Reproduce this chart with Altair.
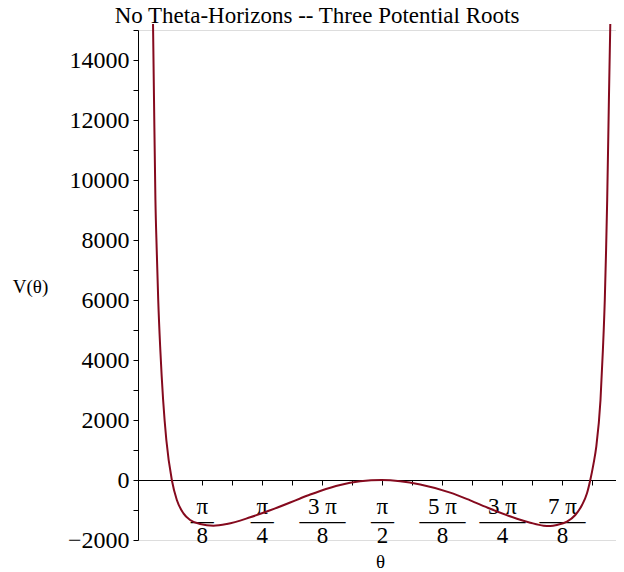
import math
import altair as alt
import pandas as pd

PI = math.pi

# curve V(theta)
theta = [0.0733, 0.0798, 0.0890, 0.0975, 0.1073, 0.1211, 0.1394, 0.1604, 0.1963, 0.2291,
         0.2723, 0.3161, 0.3816, 0.4686, 0.5563, 0.7088, 0.8397, 0.9706, 1.0361, 1.1015,
         1.1670, 1.2979, 1.4288, 1.5708,
         1.6906, 1.8215, 2.0178, 2.1487, 2.2796, 2.4544, 2.5414, 2.6286, 2.6723, 2.7160,
         2.7816, 2.8360, 2.8800, 2.9125, 2.9341, 2.9557, 2.9734, 3.0009, 3.0166, 3.0290,
         3.0375, 3.0447, 3.0559, 3.0650]
V = [15200, 12667, 9333, 7667, 6000, 4333, 2667, 1333, 0, -667,
     -1111, -1333, -1467, -1522, -1467, -1244, -1010, -750, -615, -485,
     -365, -165, -45, 0,
     -40, -150, -420, -680, -960, -1290, -1422, -1522, -1533, -1500,
     -1389, -1167, -833, -444, 0, 556, 1111, 2667, 4333, 6000,
     7667, 9333, 12667, 15200]

# x tick labels (stacked fractions) at multiples of pi/8
numerators = ["π", "π", "3 π", "π", "5 π", "3 π", "7 π", "π"]
denominators = ["8", "4", "8", "2", "8", "4", "8", ""]
x_tick_values = [k * PI / 16 for k in range(1, 17)]
y_tick_values = list(range(-2000, 15001, 1000))

df = pd.DataFrame({"theta": theta, "V": V})

entries = []
for k in range(0, 17):
    if k == 0 or k % 2 == 1:
        entries.append("''")
    else:
        i = k // 2 - 1
        num, den = numerators[i], denominators[i]
        if den:
            bar = "—" if len(num) == 1 else "——"
            entries.append("['%s','%s','%s']" % (num, bar, den))
        else:
            entries.append("['%s']" % num)
x_label_expr = "[" + ",".join(entries) + "][round(datum.value*16/PI)]"

FONT = "Liberation Serif"

line = alt.Chart(df).mark_line(
    color="#850a1e", strokeWidth=2, interpolate="monotone", clip=False
).encode(
    x=alt.X(
        "theta:Q",
        scale=alt.Scale(domain=[-0.025, PI], nice=False, zero=False),
        axis=alt.Axis(
            values=x_tick_values,
            labelExpr=x_label_expr,
            offset=-60,
            tickSize=5,
            tickColor="black",
            domainColor="black",
            labelPadding=28,
            labelBaseline="alphabetic",
            labelLineHeight=14.5,
            labelFont=FONT,
            labelFontSize=23,
            labelColor="black",
            labelFlush=False,
            labelOverlap=False,
            labelAngle=0,
            grid=False,
            title="θ",
            titleFont=FONT,
            titleFontSize=19,
            titleFontWeight="normal",
            titleColor="black",
            titleBaseline="alphabetic",
            titleY=87,
        ),
    ),
    y=alt.Y(
        "V:Q",
        scale=alt.Scale(domain=[-2000, 15000], nice=False, zero=False),
        axis=alt.Axis(
            values=y_tick_values,
            format="d",
            labelExpr="datum.value % 2000 == 0 ? datum.label : ''",
            tickSize=5,
            tickColor="black",
            domainColor="black",
            labelPadding=4,
            labelFont=FONT,
            labelFontSize=24,
            labelColor="black",
            labelOverlap=False,
            grid=False,
            title="V(θ)",
            titleFont=FONT,
            titleFontSize=19,
            titleFontWeight="normal",
            titleColor="black",
            titleAngle=0,
            titleAlign="center",
            titleBaseline="middle",
            titleX=-108,
            titleY=256,
        ),
    ),
)

chart = line.properties(
    width=484,
    height=510,
    autosize=alt.AutoSizeParams(type="none"),
    padding={"left": 130, "top": 22, "right": -6, "bottom": 31},
    title=alt.TitleParams(
        "No Theta-Horizons -- Three Potential Roots",
        font=FONT,
        fontSize=23,
        fontWeight="normal",
        color="black",
        anchor="middle",
        frame="group",
        baseline="alphabetic",
        offset=4,
        dx=-63,
        dy=32,
    ),
).configure_view(stroke=None).configure(background="white")

chart.save("out.html", embed_options={"renderer": "svg", "actions": False})
